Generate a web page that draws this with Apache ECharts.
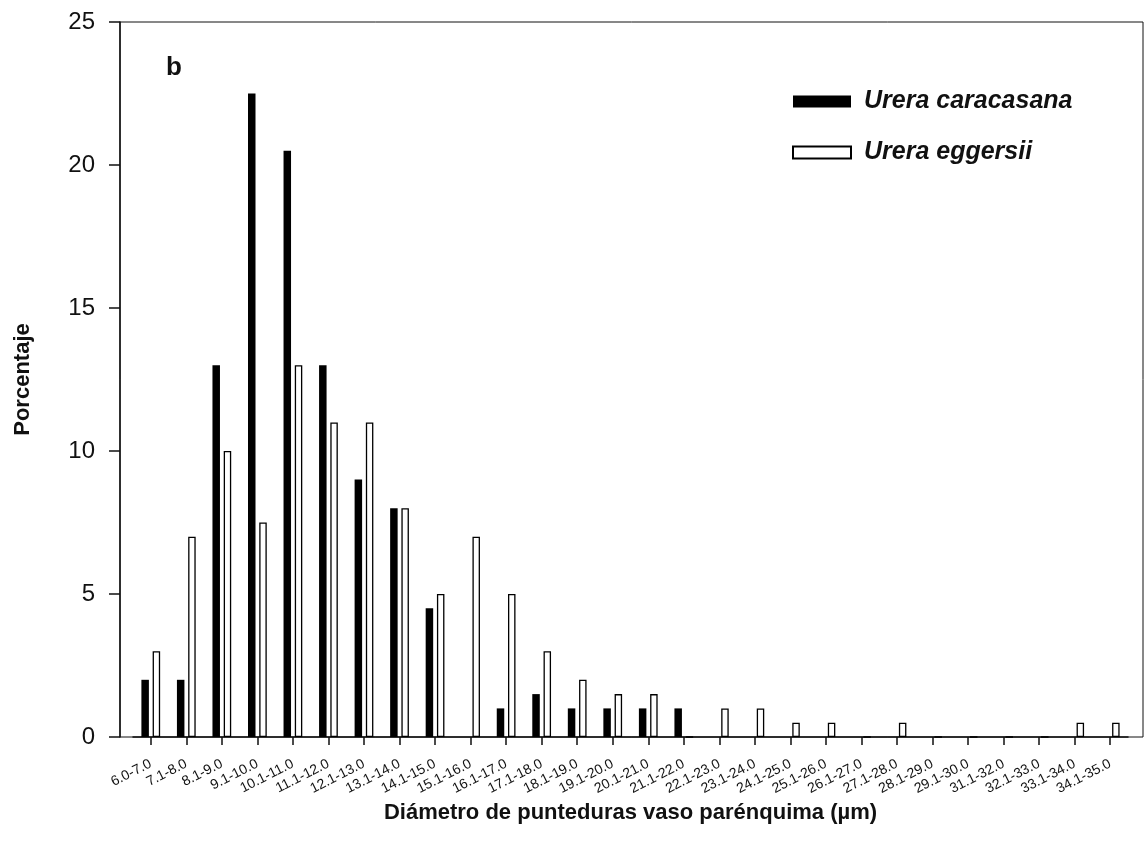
<!DOCTYPE html>
<html>
<head>
<meta charset="utf-8">
<script src="https://cdn.jsdelivr.net/npm/echarts@6/dist/echarts.min.js"></script>
<style>
  html, body { margin: 0; padding: 0; background: #fff; }
  #chart { width: 1147px; height: 845px; }
</style>
</head>
<body>
<div id="chart"></div>
<script>
// Pit diameter classes (µm)
const categories = [
  '6.0-7.0', '7.1-8.0', '8.1-9.0', '9.1-10.0', '10.1-11.0', '11.1-12.0', '12.1-13.0',
  '13.1-14.0', '14.1-15.0', '15.1-16.0', '16.1-17.0', '17.1-18.0', '18.1-19.0', '19.1-20.0',
  '20.1-21.0', '21.1-22.0', '22.1-23.0', '23.1-24.0', '24.1-25.0', '25.1-26.0', '26.1-27.0',
  '27.1-28.0', '28.1-29.0', '29.1-30.0', '31.1-32.0', '32.1-33.0', '33.1-34.0', '34.1-35.0'
];

// Percentage of pits per class
const caracasana = [2, 2, 13, 22.5, 20.5, 13, 9, 8, 4.5, 0, 1, 1.5, 1, 1, 1, 1, 0, 0, 0, 0, 0, 0, 0, 0, 0, 0, 0, 0];
const eggersii   = [3, 7, 10, 7.5, 13, 11, 11, 8, 5, 7, 5, 3, 2, 1.5, 1.5, 0, 1, 1, 0.5, 0.5, 0, 0.5, 0, 0, 0, 0, 0.5, 0.5];

const yTicks = { min: 0, max: 25, interval: 5 };

const font = 'Liberation Sans, Arial, sans-serif';
const chart = echarts.init(document.getElementById('chart'), null, { renderer: 'canvas' });

chart.setOption({
  backgroundColor: '#fff',
  animation: false,
  textStyle: { fontFamily: font, color: '#111' },
  grid: [
    // outer frame carrying the value axis
    { left: 120, right: 4, top: 22, bottom: 108, show: true, borderColor: '#111', borderWidth: 1, backgroundColor: 'transparent' },
    // inner band holding the category axis and bars
    { left: 133, right: 19, top: 22, bottom: 108 }
  ],
  legend: {
    orient: 'vertical',
    left: 787,
    top: 84,
    itemWidth: 58,
    itemHeight: 12,
    itemGap: 26,
    icon: 'rect',
    textStyle: { fontFamily: font, fontSize: 25, fontStyle: 'italic', fontWeight: 'bold', color: '#111', padding: [0, 0, 0, 8] },
    data: ['Urera caracasana', 'Urera eggersii']
  },
  graphic: [
    { type: 'text', left: 166, top: 55, style: { text: 'b', font: 'bold 26px ' + font, fill: '#111' } }
  ],
  xAxis: [
    { gridIndex: 0, type: 'value', show: false, min: 0, max: 1 },
    {
      gridIndex: 1,
      type: 'category',
      data: categories,
      boundaryGap: true,
      axisLine: { show: true, lineStyle: { color: '#111', width: 1.5 } },
      axisTick: { show: true, alignWithLabel: true, length: 8, lineStyle: { color: '#111', width: 1.5 } },
      axisLabel: { interval: 0, rotate: 27, fontSize: 14, color: '#111', margin: 26, fontFamily: font },
      name: 'Diámetro de punteduras vaso parénquima (µm)',
      nameLocation: 'middle',
      nameGap: 65,
      nameMoveOverlap: false,
      nameTextStyle: { fontSize: 22, fontWeight: 'bold', color: '#111', fontFamily: font }
    }
  ],
  yAxis: [
    {
      gridIndex: 0,
      type: 'value',
      min: yTicks.min, max: yTicks.max, interval: yTicks.interval,
      axisLine: { show: true, lineStyle: { color: '#111', width: 1.5 } },
      axisTick: { show: true, length: 11, lineStyle: { color: '#111', width: 1.5 } },
      axisLabel: { fontSize: 24, color: '#111', margin: 25, fontFamily: font },
      splitLine: { show: false },
      name: 'Porcentaje',
      nameLocation: 'middle',
      nameGap: 86,
      nameTextStyle: { fontSize: 22, fontWeight: 'bold', color: '#111', fontFamily: font }
    },
    { gridIndex: 1, type: 'value', show: false, min: yTicks.min, max: yTicks.max, splitLine: { show: false } }
  ],
  series: [
    {
      name: 'Urera caracasana',
      type: 'bar',
      xAxisIndex: 1, yAxisIndex: 1,
      data: caracasana,
      barWidth: 7.5,
      barGap: '50%',
      itemStyle: { color: '#000' }
    },
    {
      name: 'Urera eggersii',
      type: 'bar',
      xAxisIndex: 1, yAxisIndex: 1,
      data: eggersii,
      barWidth: 7.5,
      itemStyle: { color: '#fff', borderColor: '#000', borderWidth: 1.3 }
    }
  ]
});
</script>
</body>
</html>
